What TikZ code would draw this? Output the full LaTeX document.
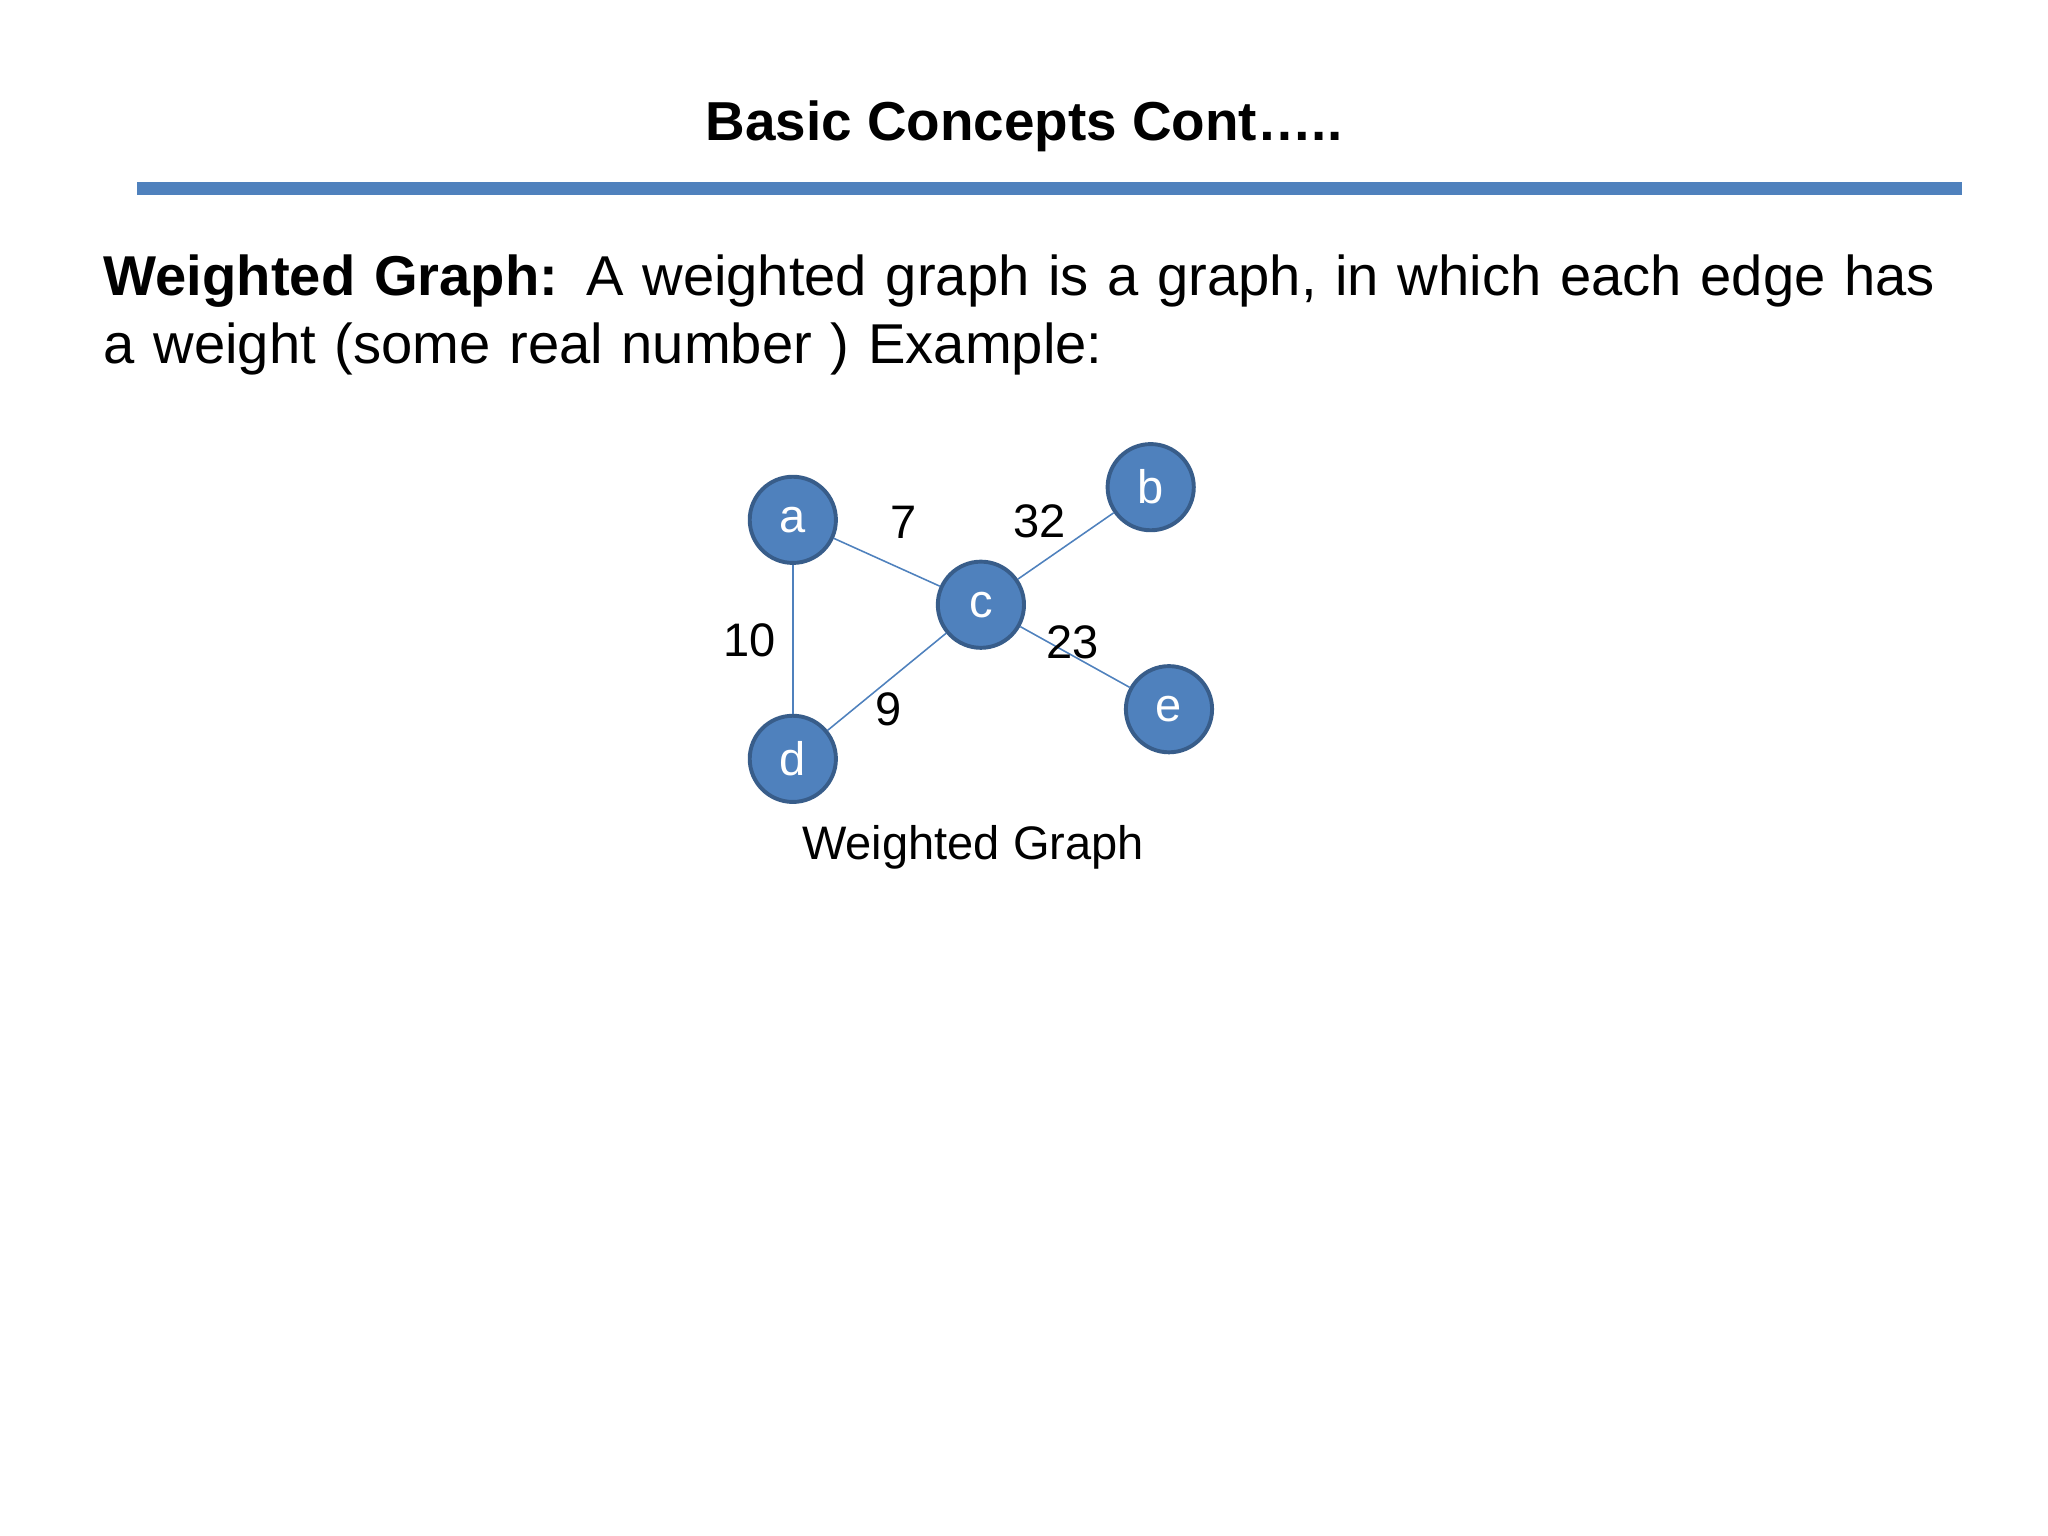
\documentclass[tikz,border=0pt]{standalone}
\usepackage{fontspec}
\setmainfont{Liberation Sans}
\definecolor{nodeblue}{HTML}{4F81BD}
\definecolor{nodeedge}{HTML}{385D8A}
\begin{document}
\begin{tikzpicture}[x=0.5pt,y=-0.5pt,
  vert/.style={circle,fill=nodeblue,draw=nodeedge,line width=1.5pt,minimum size=33pt,inner sep=0pt,text=white,font=\fontsize{18}{20}\selectfont},
  wt/.style={font=\fontsize{18}{20}\selectfont},
  conn/.style={draw=nodeblue,line width=0.6pt}]
\useasboundingbox (0,0) rectangle (1568,1176);
\node[font=\bfseries\fontsize{21}{25}\selectfont] (title) at (784,97) {Basic Concepts Cont…..};
\fill[nodeblue] (105,139) rectangle (1502,149);
\node[anchor=north west,align=left,text width=720pt,font=\fontsize{21.5}{26}\selectfont,inner sep=0pt] (txt) at (79,195)
 {\textbf{Weighted Graph:} A weighted graph is a graph, in which each edge has a weight (some real number ) Example:};
\node[vert] (a) at (607,398) {a};
\node[vert] (b) at (881,373) {b};
\node[vert] (c) at (751,463) {c};
\node[vert] (d) at (607,581) {d};
\node[vert] (e) at (895,543) {e};
\draw[conn] (a) -- (c);
\draw[conn] (c) -- (b);
\draw[conn] (a) -- (d);
\draw[conn] (c) -- (d);
\draw[conn] (c) -- (e);
\node[wt] (w7) at (692,400) {7};
\node[wt] (w32) at (796,399) {32};
\node[wt] (w10) at (574,490) {10};
\node[wt] (w23) at (821,492) {23};
\node[wt] (w9) at (680,543) {9};
\node[wt] (cap) at (745,649) {Weighted Graph};
\end{tikzpicture}
\end{document}
